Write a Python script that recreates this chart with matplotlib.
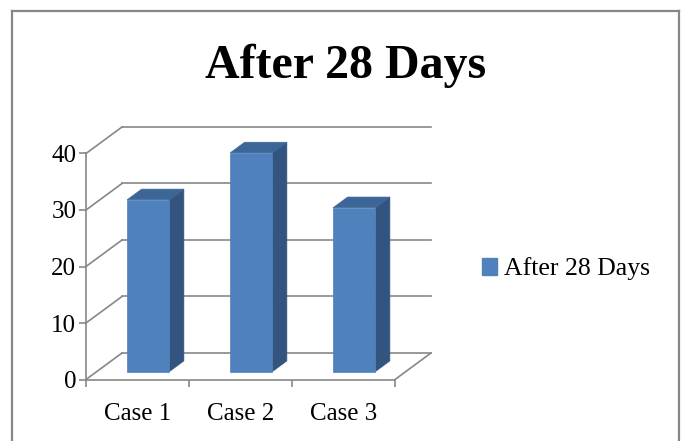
import matplotlib
matplotlib.use("Agg")
import matplotlib.pyplot as plt
from matplotlib.patches import Polygon, Patch
from matplotlib.lines import Line2D

plt.rcParams['font.family'] = ['Liberation Serif', 'DejaVu Serif']

# data
categories = ['Case 1', 'Case 2', 'Case 3']
values = [30.4, 38.7, 29.0]
series_name = 'After 28 Days'
y_ticks = [0, 10, 20, 30, 40]

# oblique "3-D" look: depth offset of the back wall in data units
DX, DY = 0.35, 4.7
D0, D1 = 0.30, 0.70          # depth span of the bars
BAR_L, BAR_R = 0.295, 0.705  # bar extent inside a category slot

GRID = '#878787'
FRONT, SIDE, TOP = '#4F81BD', '#32547F', '#3D6698'

W, H = 681, 441
fig = plt.figure(figsize=(W / 100, H / 100), dpi=100)

# chart frame (open at the bottom)
frame = dict(color='#868686', lw=1.6, transform=fig.transFigure)
fig.add_artist(Line2D([12 / W, 12 / W], [0, 1 - 11 / H], **frame))
fig.add_artist(Line2D([12 / W, 679 / W], [1 - 11 / H, 1 - 11 / H], **frame))
fig.add_artist(Line2D([679 / W, 679 / W], [0, 1 - 11 / H], **frame))

fig.text(346 / W, 1 - 78 / H, 'After 28 Days', ha='center', va='baseline',
         fontsize=34.5, fontweight='bold')

ax = fig.add_axes([86 / W, 1 - 379.5 / H, 309 / W, 226 / H])
n = len(categories)
ax.set_xlim(0, n)
ax.set_ylim(0, max(y_ticks))

# back wall gridlines and their diagonal links to the front axis
for k in y_ticks:
    ax.plot([0, DX], [k, k + DY], color=GRID, lw=1.2, clip_on=False, zorder=1)
    ax.plot([DX, n + DX], [k + DY, k + DY], color=GRID, lw=1.2, clip_on=False, zorder=1)
# right edge of the floor
ax.plot([n, n + DX], [0, DY], color=GRID, lw=1.2, clip_on=False, zorder=1)

# bars
for i, v in enumerate(values):
    x0, x1 = i + BAR_L, i + BAR_R
    ax0, ay0 = D0 * DX, D0 * DY
    ax1, ay1 = D1 * DX, D1 * DY
    front = [(x0 + ax0, ay0), (x1 + ax0, ay0), (x1 + ax0, v + ay0), (x0 + ax0, v + ay0)]
    side = [(x1 + ax0, ay0), (x1 + ax1, ay1), (x1 + ax1, v + ay1), (x1 + ax0, v + ay0)]
    top = [(x0 + ax0, v + ay0), (x1 + ax0, v + ay0), (x1 + ax1, v + ay1), (x0 + ax1, v + ay1)]
    for pts, col in ((side, SIDE), (top, TOP), (front, FRONT)):
        ax.add_patch(Polygon(pts, closed=True, facecolor=col, edgecolor=col,
                             lw=0.5, clip_on=False, zorder=3))

# axes styling
for s in ('top', 'right'):
    ax.spines[s].set_visible(False)
for s in ('left', 'bottom'):
    ax.spines[s].set_color(GRID)
    ax.spines[s].set_linewidth(1.2)
ax.set_facecolor('none')

ax.set_yticks(y_ticks)
ax.tick_params(axis='y', direction='out', length=5, width=1.2, color=GRID,
               labelsize=18, pad=2)
ax.set_xticks(range(n + 1))
ax.set_xticklabels([])
ax.set_xticks([i + 0.5 for i in range(n)], minor=True)
ax.set_xticklabels(categories, minor=True)
ax.tick_params(axis='x', which='major', direction='out', length=5, width=1.2, color=GRID)
ax.tick_params(axis='x', which='minor', length=0, labelsize=18, pad=17)

fig.legend(handles=[Patch(facecolor=FRONT, edgecolor=FRONT, label=series_name)],
           loc='center left', bbox_to_anchor=(469 / W, 1 - 269 / H),
           frameon=False, fontsize=18.5, borderpad=0, handlelength=0.6,
           handleheight=0.6, handletextpad=0.25)

fig.savefig('out.png', dpi=100)
